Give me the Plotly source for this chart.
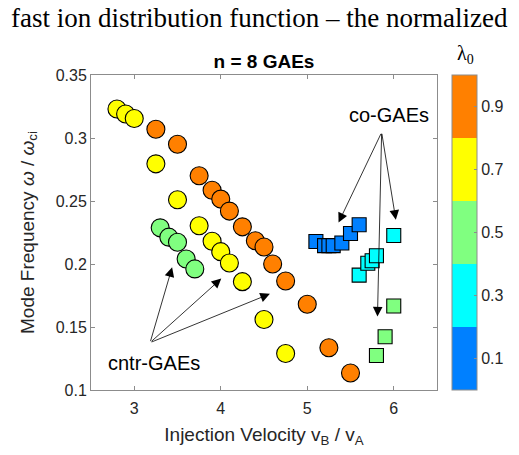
import plotly.graph_objects as go

# ---- data ----
# counter-propagating GAEs (circles)
cntr_orange_v = [3.25, 3.5, 3.75, 3.9, 4.0, 4.1, 4.25, 4.4, 4.5, 4.6, 4.75, 5.0, 5.25, 5.5]
cntr_orange_f = [0.307, 0.295, 0.270, 0.2585, 0.2515, 0.242, 0.2295, 0.2185, 0.2135, 0.200, 0.1865, 0.168, 0.1335, 0.1135]
cntr_yellow_v = [2.8, 2.9, 3.0, 3.25, 3.5, 3.75, 3.9, 4.0, 4.1, 4.25, 4.5, 4.75]
cntr_yellow_f = [0.323, 0.319, 0.3155, 0.2795, 0.251, 0.2303, 0.218, 0.2098, 0.2008, 0.186, 0.156, 0.129]
cntr_green_v = [3.3, 3.4, 3.5, 3.6, 3.7]
cntr_green_f = [0.2287, 0.2213, 0.2173, 0.204, 0.1961]

# co-propagating GAEs (squares)
co_blue_v = [5.1, 5.2, 5.25, 5.3, 5.4, 5.5, 5.6]
co_blue_f = [0.2178, 0.2146, 0.2146, 0.2146, 0.2167, 0.2242, 0.2311]
co_cyan_v = [5.6, 5.7, 5.75, 5.8, 6.0]
co_cyan_f = [0.1912, 0.2006, 0.2026, 0.2066, 0.2226]
co_green_v = [5.8, 5.9, 6.0]
co_green_f = [0.1274, 0.1423, 0.1667]

lam_orange, lam_yellow, lam_green, lam_cyan, lam_blue = 0.9, 0.7, 0.5, 0.3, 0.1

cbar_ticks = [0.1, 0.3, 0.5, 0.7, 0.9]
x_ticks = [3, 4, 5, 6]
y_ticks = [0.1, 0.15, 0.2, 0.25, 0.3, 0.35]

# ---- assemble ----
circ = sorted(
    [(v, f, lam_orange) for v, f in zip(cntr_orange_v, cntr_orange_f)]
    + [(v, f, lam_yellow) for v, f in zip(cntr_yellow_v, cntr_yellow_f)]
    + [(v, f, lam_green) for v, f in zip(cntr_green_v, cntr_green_f)],
    key=lambda t: t[0],
)
sq = sorted(
    [(v, f, lam_blue) for v, f in zip(co_blue_v, co_blue_f)]
    + [(v, f, lam_cyan) for v, f in zip(co_cyan_v, co_cyan_f)]
    + [(v, f, lam_green) for v, f in zip(co_green_v, co_green_f)],
    key=lambda t: t[0],
)

BLUE, CYAN, GREEN, YELLOW, ORANGE = "#0080FF", "#00FFFF", "#80FF80", "#FFFF00", "#FF8000"
cscale = [
    [0.0, BLUE], [0.2, BLUE], [0.2, CYAN], [0.4, CYAN], [0.4, GREEN],
    [0.6, GREEN], [0.6, YELLOW], [0.8, YELLOW], [0.8, ORANGE], [1.0, ORANGE],
]

FONT = "Liberation Sans, Arial, sans-serif"
TXT = "#262626"
AX = "#8c8c8c"

W, H = 519, 455

fig = go.Figure()
fig.add_trace(go.Scatter(
    x=[c[0] for c in circ], y=[c[1] for c in circ], mode="markers",
    marker=dict(symbol="circle", size=18, color=[c[2] for c in circ],
                colorscale=cscale, cmin=0, cmax=1,
                line=dict(color="black", width=1.1),
                showscale=True,
                colorbar=dict(
                    x=1.0425, xanchor="left", xref="paper", xpad=0, ypad=0,
                    y=0.5, yanchor="middle", len=1.0, lenmode="fraction",
                    thickness=25, outlinecolor=AX, outlinewidth=1,
                    tickvals=cbar_ticks, ticktext=[str(t) for t in cbar_ticks],
                    ticks="inside", ticklen=3, tickcolor=AX,
                    tickfont=dict(family=FONT, size=16, color=TXT),
                )),
    showlegend=False, hoverinfo="skip",
))
fig.add_trace(go.Scatter(
    x=[s[0] for s in sq], y=[s[1] for s in sq], mode="markers",
    marker=dict(symbol="square", size=14, color=[s[2] for s in sq],
                colorscale=cscale, cmin=0, cmax=1, showscale=False,
                line=dict(color="black", width=1.1)),
    showlegend=False, hoverinfo="skip",
))

ann = []
# cntr-GAEs arrows
cntr_tail = (3.183, 0.1376)
for tip in [(3.438, 0.1974), (4.006, 0.1884), (4.568, 0.1763)]:
    ann.append(dict(x=tip[0], y=tip[1], ax=cntr_tail[0], ay=cntr_tail[1],
                    xref="x", yref="y", axref="x", ayref="y", text="",
                    showarrow=True, arrowhead=2, arrowsize=2.4, arrowwidth=0.8,
                    arrowcolor="black"))
co_tail = (5.860, 0.3045)
for tip in [(5.362, 0.2329), (6.024, 0.2351), (5.812, 0.1583)]:
    ann.append(dict(x=tip[0], y=tip[1], ax=co_tail[0], ay=co_tail[1],
                    xref="x", yref="y", axref="x", ayref="y", text="",
                    showarrow=True, arrowhead=2, arrowsize=2.4, arrowwidth=0.8,
                    arrowcolor="black"))
ann.append(dict(x=3.232, y=0.1211, xref="x", yref="y", text="cntr-GAEs",
                xanchor="center", yanchor="middle",
                showarrow=False, font=dict(family=FONT, size=20, color="black")))
ann.append(dict(x=5.944, y=0.318, xref="x", yref="y", text="co-GAEs",
                xanchor="center", yanchor="middle",
                showarrow=False, font=dict(family=FONT, size=20, color="black")))
# colorbar label
ann.append(dict(x=1.081, y=1.0635, xref="paper", yref="paper", text="λ<sub>0</sub>",
                xanchor="center", yanchor="middle",
                showarrow=False, font=dict(family="Liberation Serif, serif", size=20, color="black")))
# cropped caption text above the figure
ann.append(dict(x=0.487, y=1.181, xref="paper", yref="paper",
                text="fast ion distribution function – the normalized",
                xanchor="center", yanchor="middle",
                showarrow=False, font=dict(family="Liberation Serif, Times New Roman, serif", size=27, color="black")))

fig.update_layout(
    width=W, height=H,
    margin=dict(l=91, r=82, t=75, b=65, autoexpand=False),
    paper_bgcolor="white", plot_bgcolor="white",
    font=dict(family=FONT, color=TXT),
    hovermode=False,
    title=dict(text="<b>n = 8 GAEs</b>", x=0.5, xref="paper", xanchor="center",
               y=1 - 61 / H, yref="container", yanchor="middle",
               font=dict(family=FONT, size=19, color="black")),
    annotations=ann,
    xaxis=dict(range=[2.5, 6.5], tickvals=x_ticks, ticktext=[str(t) for t in x_ticks],
               automargin=False, ticklabelstandoff=4,
               showgrid=False, zeroline=False, showline=True, linecolor=AX, linewidth=1,
               mirror="ticks", ticks="inside", ticklen=4, tickcolor=AX,
               tickfont=dict(family=FONT, size=16, color=TXT),
               title=dict(text="Injection Velocity v<sub>B</sub> / v<sub>A</sub>",
                          font=dict(family=FONT, size=19, color=TXT), standoff=11)),
    yaxis=dict(range=[0.1, 0.35], tickvals=y_ticks, ticktext=[str(t) for t in y_ticks],
               automargin=False,
               showgrid=False, zeroline=False, showline=True, linecolor=AX, linewidth=1,
               mirror="ticks", ticks="inside", ticklen=4, tickcolor=AX,
               tickfont=dict(family=FONT, size=16, color=TXT),
               title=dict(text="Mode Frequency <i>ω</i> / <i>ω</i><sub>ci</sub>",
                          font=dict(family=FONT, size=19, color=TXT), standoff=16)),
)

# remove the browser's default 8px body margin so the figure fills the window
fig.write_html("out.html", config={"displayModeBar": False},
               post_script="document.body.style.margin='0px';")
